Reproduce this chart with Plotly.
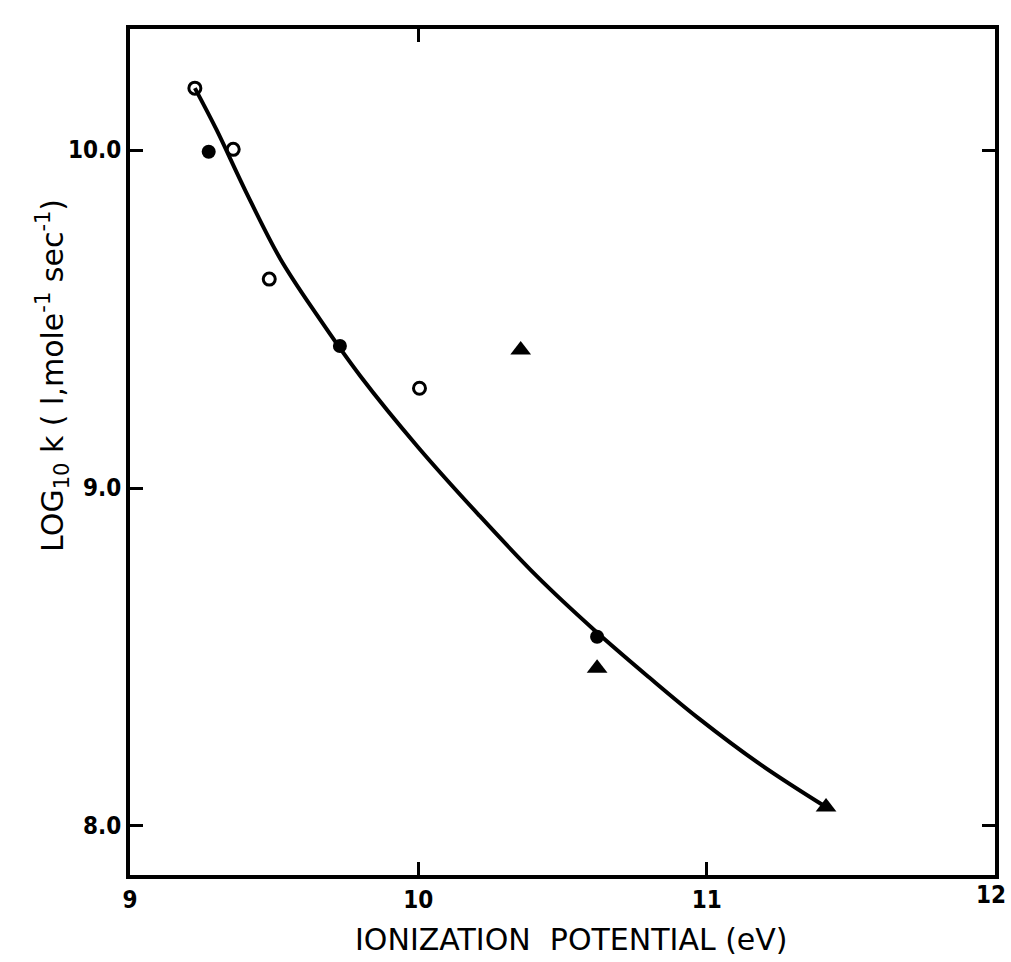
import plotly.graph_objects as go

# Data
open_x = [9.225, 9.358, 9.483, 10.004]
open_y = [10.183, 10.002, 9.618, 9.295]
filled_x = [9.273, 9.728, 10.62]
filled_y = [9.995, 9.420, 8.560]
tri_x = [10.355, 10.62, 11.414]
tri_y = [9.408, 8.467, 8.056]
curve_x = [9.225, 9.30, 9.40, 9.52, 9.65, 9.80, 10.0, 10.21, 10.41, 10.61, 10.80, 10.97, 11.19, 11.414]
curve_y = [10.183, 10.06, 9.88, 9.68, 9.51, 9.33, 9.12, 8.92, 8.74, 8.58, 8.44, 8.32, 8.18, 8.056]

x_ticks = [9, 10, 11, 12]
x_ticklabels = ["9", "10", "11", "12"]
x_top_ticks = [10]
y_ticks = [8.0, 9.0, 10.0]
y_right_ticks = [8.0, 10.0]
y_ticklabels = ["8.0", "9.0", "10.0"]

X_RANGE = [9, 12]
Y_RANGE = [7.855, 10.358]

TICK_FONT = dict(family="DejaVu Sans Condensed", size=24, color="black", weight="bold")
TITLE_FONT = "DejaVu Sans"

fig = go.Figure()
fig.add_trace(go.Scatter(x=curve_x, y=curve_y, mode="lines",
                         line=dict(color="black", width=4, shape="spline", smoothing=1.0),
                         showlegend=False, hoverinfo="skip"))
fig.add_trace(go.Scatter(x=open_x, y=open_y, mode="markers",
                         marker=dict(symbol="circle-open", size=12, color="black", line=dict(width=3)),
                         showlegend=False))
fig.add_trace(go.Scatter(x=filled_x, y=filled_y, mode="markers",
                         marker=dict(symbol="circle", size=14, color="black"),
                         showlegend=False))
fig.add_trace(go.Scatter(x=tri_x, y=tri_y, mode="markers",
                         marker=dict(symbol="triangle-up", size=18, color="black"),
                         showlegend=False))
# invisible trace to hold the top/right tick axes
fig.add_trace(go.Scatter(x=[X_RANGE[0]], y=[Y_RANGE[0]], xaxis="x2", yaxis="y2", mode="markers",
                         marker=dict(opacity=0), showlegend=False, hoverinfo="skip"))

common = dict(showgrid=False, zeroline=False, showline=True, linecolor="black", linewidth=4,
              ticks="inside", ticklen=13, tickwidth=3, tickcolor="black", automargin=False)

# the last x label sits at the right corner; draw it right-aligned so it stays inside the page
axis_ticktext = x_ticklabels[:-1] + [""]

fig.update_layout(
    width=1011, height=962,
    margin=dict(l=130, r=16, t=29, b=87),
    paper_bgcolor="white", plot_bgcolor="white",
    font=dict(family=TITLE_FONT, color="black"),
    xaxis=dict(range=X_RANGE, tickvals=x_ticks, ticktext=axis_ticktext,
               tickfont=TICK_FONT, mirror=True, **common),
    yaxis=dict(range=Y_RANGE, tickvals=y_ticks, ticktext=y_ticklabels,
               tickfont=TICK_FONT, mirror=True, **common),
    xaxis2=dict(range=X_RANGE, tickvals=x_top_ticks, overlaying="x", side="top",
                showticklabels=False, **common),
    yaxis2=dict(range=Y_RANGE, tickvals=y_right_ticks, overlaying="y", side="right",
                showticklabels=False, **common),
    annotations=[
        dict(text=x_ticklabels[-1], xref="x", x=x_ticks[-1], yref="paper", y=0,
             xanchor="right", yanchor="top", xshift=13, yshift=-4, showarrow=False,
             font=TICK_FONT),
        dict(text="IONIZATION  POTENTIAL (eV)", xref="paper", yref="paper",
             x=0.51, y=-0.0768, xanchor="center", yanchor="middle", showarrow=False,
             font=dict(size=30, family=TITLE_FONT)),
        dict(text="LOG<sub>10</sub> k ( l,mole<sup>-1</sup> sec<sup>-1</sup>)", xref="paper", yref="paper",
             x=-0.089, y=0.590, xanchor="center", yanchor="middle", textangle=-90, showarrow=False,
             font=dict(size=30, family=TITLE_FONT)),
    ],
)

fig.write_html("out.html", config={"displayModeBar": False},
               post_script="document.body.style.margin='0';document.body.style.overflow='hidden';")
